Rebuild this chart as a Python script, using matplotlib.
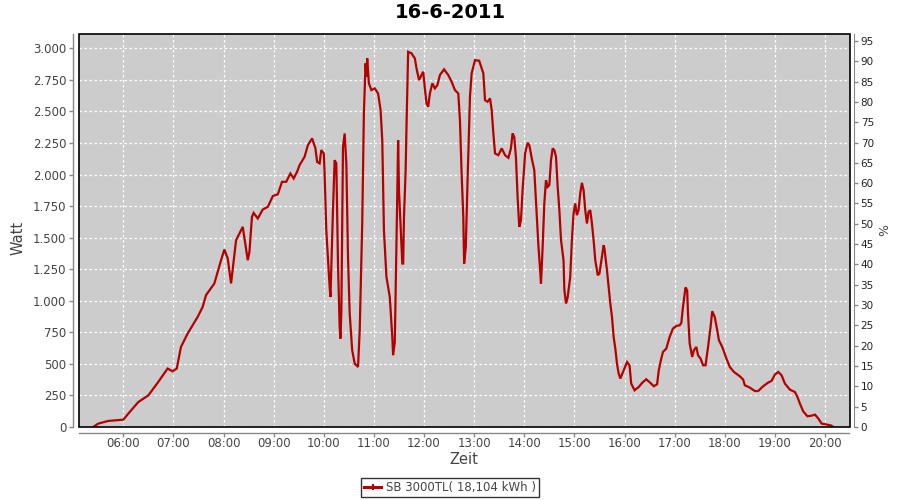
import matplotlib
matplotlib.use("Agg")
import matplotlib.pyplot as plt
from matplotlib.ticker import FuncFormatter, MultipleLocator, FixedLocator
from matplotlib.lines import Line2D
from matplotlib.patches import Rectangle

title = "16-6-2011"
series_name = "SB 3000TL( 18,104 kWh )"
hour_ticks = list(range(6, 21))

times = [
    "05:24", "05:30", "05:42", "06:00", "06:06", "06:18", "06:30", "06:41", "06:53", "06:59",
    "07:04", "07:09", "07:17", "07:29", "07:35", "07:39", "07:49", "07:57", "08:01", "08:05",
    "08:09", "08:15", "08:19", "08:23", "08:26", "08:29", "08:31", "08:34", "08:36", "08:41",
    "08:47", "08:53", "08:59", "09:05", "09:10", "09:15", "09:20", "09:24", "09:28", "09:31",
    "09:37", "09:41", "09:46", "09:50", "09:52", "09:55", "09:57", "10:00", "10:01", "10:03",
    "10:07", "10:08", "10:11", "10:13", "10:15", "10:17", "10:19", "10:20", "10:21", "10:23",
    "10:25", "10:27", "10:29", "10:31", "10:34", "10:37", "10:41", "10:43", "10:46", "10:48",
    "10:50", "10:51", "10:52", "10:54", "10:57", "11:01", "11:05", "11:08", "11:10", "11:12",
    "11:15", "11:19", "11:22", "11:23", "11:25", "11:26", "11:28", "11:29", "11:30", "11:32",
    "11:34", "11:35", "11:36", "11:38", "11:39", "11:40", "11:41", "11:45", "11:49", "11:51",
    "11:54", "11:56", "11:59", "12:01", "12:03", "12:05", "12:07", "12:10", "12:13", "12:16",
    "12:19", "12:24", "12:29", "12:33", "12:37", "12:41", "12:43", "12:45", "12:47", "12:48",
    "12:50", "12:52", "12:55", "12:57", "13:01", "13:06", "13:09", "13:11", "13:13", "13:16",
    "13:19", "13:21", "13:23", "13:25", "13:29", "13:33", "13:37", "13:41", "13:44", "13:46",
    "13:48", "13:50", "13:52", "13:54", "13:56", "13:58", "14:01", "14:04", "14:06", "14:09",
    "14:12", "14:14", "14:17", "14:19", "14:20", "14:22", "14:24", "14:26", "14:28", "14:30",
    "14:32", "14:34", "14:36", "14:38", "14:40", "14:42", "14:44", "14:47", "14:48", "14:50",
    "14:52", "14:55", "14:57", "14:59", "15:01", "15:03", "15:05", "15:07", "15:09", "15:11",
    "15:13", "15:15", "15:17", "15:19", "15:21", "15:23", "15:25", "15:28", "15:30", "15:33",
    "15:35", "15:36", "15:39", "15:41", "15:43", "15:45", "15:47", "15:49", "15:51", "15:53",
    "15:55", "15:59", "16:03", "16:06", "16:08", "16:12", "16:17", "16:21", "16:26", "16:31",
    "16:35", "16:39", "16:41", "16:44", "16:46", "16:50", "16:54", "16:58", "17:02", "17:06",
    "17:08", "17:10", "17:13", "17:15", "17:16", "17:18", "17:21", "17:23", "17:26", "17:28",
    "17:31", "17:34", "17:37", "17:40", "17:43", "17:45", "17:48", "17:51", "17:53", "17:57",
    "18:02", "18:06", "18:11", "18:18", "18:22", "18:24", "18:30", "18:36", "18:40", "18:46",
    "18:52", "18:56", "19:00", "19:04", "19:08", "19:12", "19:18", "19:24", "19:27", "19:30",
    "19:34", "19:39", "19:44", "19:48", "19:52", "19:56", "20:02", "20:07", "20:10",
]

watts = [
    0, 27, 48, 58, 106, 198, 251, 349, 463, 441,
    463, 634, 740, 872, 951, 1044, 1137, 1321, 1406, 1335,
    1137, 1480, 1533, 1585, 1454, 1321, 1387, 1664, 1696, 1652,
    1723, 1744, 1829, 1844, 1942, 1942, 2008, 1969, 2021, 2074,
    2140, 2233, 2286, 2207, 2100, 2088, 2193, 2167, 2008, 1559,
    1110, 1030, 1718, 2114, 2088, 1295, 793, 700, 899, 2219,
    2325, 2088, 1347, 899, 608, 502, 476, 766, 1612, 2484,
    2880, 2774, 2920, 2722, 2669, 2682, 2642, 2510, 2272, 1559,
    1189, 1030, 713, 568, 674, 1057, 1850, 2272, 1876, 1585,
    1295, 1295, 1664, 2034, 2378, 2669, 2972, 2960, 2920, 2841,
    2748, 2774, 2814, 2682, 2563, 2537, 2642, 2722, 2682, 2708,
    2788, 2833, 2788, 2735, 2669, 2642, 2431, 2008, 1664, 1295,
    1427, 1929, 2616, 2801, 2906, 2901, 2841, 2801, 2589, 2576,
    2603, 2510, 2325, 2167, 2153, 2207, 2153, 2132, 2207, 2325,
    2298, 2140, 1823, 1585, 1638, 1876, 2167, 2251, 2233, 2127,
    2034, 1796, 1427, 1242, 1137, 1427, 1771, 1955, 1902, 1916,
    2114, 2207, 2193, 2140, 1902, 1718, 1480, 1321, 1083, 978,
    1030, 1189, 1480, 1691, 1771, 1678, 1718, 1850, 1934, 1876,
    1718, 1612, 1704, 1718, 1612, 1480, 1321, 1202, 1216, 1347,
    1440, 1414, 1242, 1110, 978, 872, 713, 621, 502, 423,
    384, 449, 515, 489, 344, 291, 317, 349, 378, 349,
    323, 338, 449, 542, 594, 621, 713, 780, 800, 806,
    824, 951, 1105, 1083, 899, 661, 555, 608, 634, 568,
    542, 489, 489, 634, 793, 917, 872, 766, 687, 634,
    542, 476, 436, 402, 376, 331, 312, 285, 285, 323,
    352, 365, 415, 436, 410, 344, 296, 277, 238, 185,
    123, 85, 90, 98, 67, 27, 19, 13, 0,
]


def to_hours(t):
    h, m = t.split(":")
    return int(h) + int(m) / 60.0


hours = [to_hours(t) for t in times]

LABEL_COLOR = "#444444"
AXIS_COLOR = "#888888"
LINE_COLOR = "#B40000"

fig = plt.figure(figsize=(9, 5), dpi=100)
ax = fig.add_axes([79 / 900, 1 - 427 / 500, (849.5 - 79) / 900, (427 - 34) / 500])
ax.set_facecolor("#CCCCCC")

ax.plot(hours, watts, color=LINE_COLOR, lw=1.6, solid_joinstyle="miter", zorder=3)

ax.set_xlim(6 - 44.3 / 50.12, 20 + 24.5 / 50.12)
ax.set_ylim(0, 3113)
ax.xaxis.set_major_locator(FixedLocator(hour_ticks))
ax.xaxis.set_major_formatter(FuncFormatter(lambda v, p: f"{int(round(v)):02d}:00"))
ax.yaxis.set_major_locator(MultipleLocator(250))
ax.yaxis.set_major_formatter(FuncFormatter(lambda v, p: f"{int(round(v)):,}".replace(",", ".")))

ax.grid(True, color="white", lw=0.9, linestyle=(0, (2, 2)), zorder=1)
ax.set_axisbelow(True)

for s in ["top", "right"]:
    ax.spines[s].set_visible(False)
for s in ["left", "bottom"]:
    ax.spines[s].set_position(("outward", 4))
    ax.spines[s].set_color(AXIS_COLOR)
    ax.spines[s].set_linewidth(1.0)

ax.add_patch(Rectangle((0, 0), 1, 1, transform=ax.transAxes, fill=False,
                       edgecolor="black", lw=1.2, zorder=5, clip_on=False))

ax.tick_params(axis="both", colors=AXIS_COLOR, labelcolor=LABEL_COLOR,
               labelsize=8.5, length=3, width=1)
ax.tick_params(axis="x", pad=0)
ax.tick_params(axis="y", pad=2)

ax.set_xlabel("Zeit", fontsize=10.5, color=LABEL_COLOR, labelpad=2)
ax.set_ylabel("Watt", fontsize=10.5, color=LABEL_COLOR)
ax.yaxis.set_label_coords((26 - 79) / 770.5, 0.48)

ax2 = ax.twinx()
ax2.set_ylim(0, 96.7)
ax2.yaxis.set_major_locator(MultipleLocator(5))
ax2.yaxis.set_major_formatter(FuncFormatter(lambda v, p: f"{int(round(v))}"))
for s in ["top", "left", "bottom"]:
    ax2.spines[s].set_visible(False)
ax2.spines["right"].set_position(("outward", 3))
ax2.spines["right"].set_color(AXIS_COLOR)
ax2.tick_params(axis="y", colors=AXIS_COLOR, labelcolor="#222222",
                labelsize=7.5, length=3, width=1, pad=2)
ax2.set_ylabel("%", fontsize=9, color=LABEL_COLOR, labelpad=3)

fig.text(0.5, 1 - 12.5 / 500, title, ha="center", va="center",
         fontsize=14, fontweight="bold", color="black")

handle = Line2D([], [], color=LINE_COLOR, lw=2.2, marker="|", markersize=4,
                markeredgewidth=1.5)
leg = fig.legend([handle], [series_name], loc="center",
                 bbox_to_anchor=(450 / 900, 1 - 487.5 / 500), frameon=True,
                 fontsize=8.5, handlelength=1.5, handletextpad=0.4,
                 borderpad=0.25, borderaxespad=0, fancybox=False)
leg.get_frame().set_edgecolor("black")
leg.get_frame().set_linewidth(1.0)
for t in leg.get_texts():
    t.set_color(LABEL_COLOR)

fig.savefig("out.png", dpi=100, facecolor="white")
